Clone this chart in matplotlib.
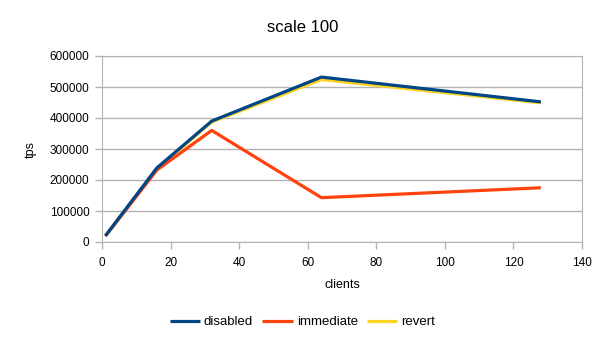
import matplotlib
matplotlib.use("Agg")
import matplotlib.pyplot as plt
from matplotlib.ticker import MultipleLocator

plt.rcParams['font.family'] = ['Liberation Sans', 'DejaVu Sans']

clients = [1, 16, 32, 64, 128]
disabled = [20000, 239000, 390000, 532000, 452000]
immediate = [19000, 232000, 360000, 143000, 175000]
revert = [19500, 235000, 387000, 524000, 449000]

fig = plt.figure(figsize=(6.05, 3.40), dpi=100)
ax = fig.add_axes([102/605, 1-242/340, 480/605, 186/340])

grid_c = '#b3b3b3'
ax.plot(clients, revert, color='#ffd320', lw=2.3, label='revert', zorder=3, solid_capstyle='butt')
ax.plot(clients, immediate, color='#ff420e', lw=2.3, label='immediate', zorder=4, solid_capstyle='butt')
ax.plot(clients, disabled, color='#004586', lw=2.3, label='disabled', zorder=5, solid_capstyle='butt')

ax.set_xlim(0, 140)
ax.set_ylim(0, 600000)
ax.xaxis.set_major_locator(MultipleLocator(20))
ax.yaxis.set_major_locator(MultipleLocator(100000))
ax.grid(axis='y', color=grid_c, lw=1)
ax.set_axisbelow(True)
for s in ax.spines.values():
    s.set_color(grid_c)
ax.tick_params(colors=grid_c, labelcolor='black', labelsize=8.5, length=5, width=1)
ax.tick_params(axis='x', pad=6)
ax.tick_params(axis='y', pad=4)
ax.set_xlabel('clients', fontsize=9, labelpad=7)
ax.set_ylabel('tps', fontsize=9, labelpad=9)
fig.text(0.5, 1-27/340, 'scale 100', fontsize=12, ha='center', va='center')

h, l = ax.get_legend_handles_labels()
order = [2, 1, 0]
fig.legend([h[i] for i in order], [l[i] for i in order], loc='center', bbox_to_anchor=(0.5, 1-322/340),
           ncol=3, frameon=False, fontsize=9.5, handlelength=2.3, columnspacing=0.7, handletextpad=0.3)

fig.savefig('out.png', dpi=100)
